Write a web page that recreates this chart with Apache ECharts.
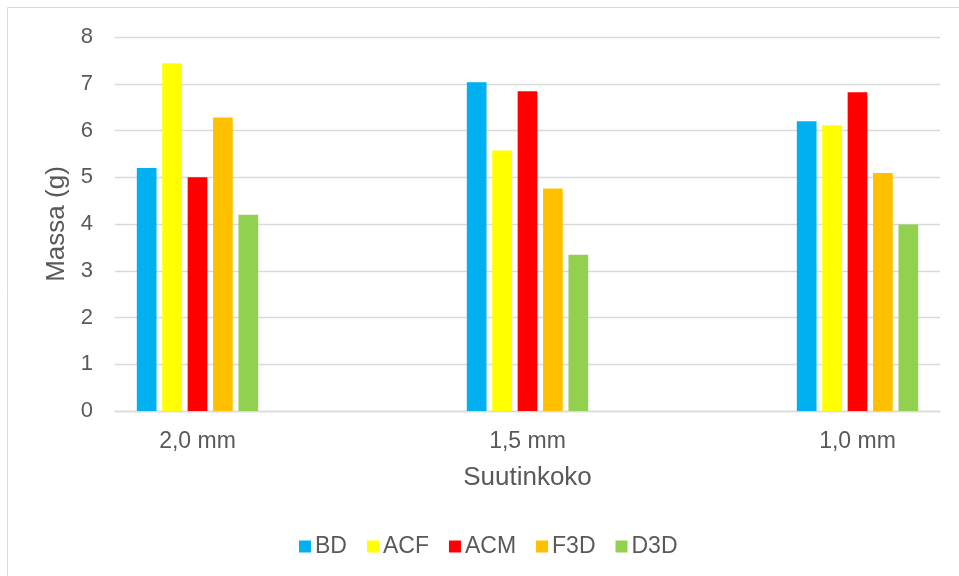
<!DOCTYPE html>
<html>
<head>
<meta charset="utf-8">
<script src="https://cdn.jsdelivr.net/npm/echarts@6/dist/echarts.min.js"></script>
<style>
  html, body { margin: 0; padding: 0; background: #ffffff; }
  #chart { width: 959px; height: 576px; }
</style>
</head>
<body>
<div id="chart"></div>
<script>
// Nozzle sizes and the printed part mass (g) per filament
const nozzleSizes = ['2,0 mm', '1,5 mm', '1,0 mm'];
const seriesNames = ['BD', 'ACF', 'ACM', 'F3D', 'D3D'];
const valuesBD  = [5.20, 7.03, 6.20];
const valuesACF = [7.44, 5.57, 6.11];
const valuesACM = [5.00, 6.84, 6.82];
const valuesF3D = [6.28, 4.76, 5.09];
const valuesD3D = [4.20, 3.34, 3.99];
const yTicks = [0, 1, 2, 3, 4, 5, 6, 7, 8];

const colors = ['#00B0F0', '#FFFF00', '#FF0000', '#FFC000', '#92D050'];
const allValues = [valuesBD, valuesACF, valuesACM, valuesF3D, valuesD3D];

// Each nozzle size sits in its own slot, with an empty slot between groups
const axisCategories = [];
nozzleSizes.forEach((s, i) => {
  if (i > 0) axisCategories.push('');
  axisCategories.push(s);
});
function spread(vals) {
  const out = [];
  vals.forEach((v, i) => {
    if (i > 0) out.push(null);
    out.push(v);
  });
  return out;
}

const FONT = "'Liberation Sans', Arial, sans-serif";
const TXT = '#595959';

const chart = echarts.init(document.getElementById('chart'), null, { renderer: 'canvas' });
chart.setOption({
  animation: false,
  backgroundColor: '#ffffff',
  textStyle: { fontFamily: FONT, color: TXT },
  graphic: [{
    type: 'rect',
    shape: { x: 7.5, y: 7.5, width: 1000, height: 1000 },
    style: { fill: 'none', stroke: '#d9d9d9', lineWidth: 1 },
    silent: true
  }],
  grid: { left: 115, right: 19, top: 37, bottom: 165, containLabel: false },
  legend: {
    data: seriesNames,
    left: 299,
    top: 535,
    padding: 0,
    icon: 'rect',
    itemWidth: 12,
    itemHeight: 12,
    itemGap: 20,
    textStyle: { fontFamily: FONT, fontSize: 23, color: TXT, padding: [0, 0, 0, -1] }
  },
  xAxis: {
    type: 'category',
    data: axisCategories,
    name: 'Suutinkoko',
    nameLocation: 'middle',
    nameGap: 54,
    nameTextStyle: { fontFamily: FONT, fontSize: 26, color: TXT },
    axisLine: { show: true, lineStyle: { color: '#d9d9d9', width: 1.3 } },
    axisTick: { show: false },
    axisLabel: { interval: 0, margin: 19, fontFamily: FONT, fontSize: 23, color: TXT },
    splitLine: { show: false }
  },
  yAxis: {
    type: 'value',
    min: yTicks[0],
    max: yTicks[yTicks.length - 1],
    interval: 1,
    name: 'Massa (g)',
    nameLocation: 'middle',
    nameGap: 41,
    nameRotate: 90,
    nameTextStyle: { fontFamily: FONT, fontSize: 26, color: TXT },
    axisLine: { show: false },
    axisTick: { show: false },
    axisLabel: { margin: 22, fontFamily: FONT, fontSize: 22, color: TXT },
    splitLine: { show: true, lineStyle: { color: '#d9d9d9', width: 1.3 } }
  },
  series: seriesNames.map((name, i) => ({
    name: name,
    type: 'bar',
    data: spread(allValues[i]),
    barWidth: 19.7,
    barGap: '29%',
    itemStyle: { color: colors[i] }
  }))
});
</script>
</body>
</html>
